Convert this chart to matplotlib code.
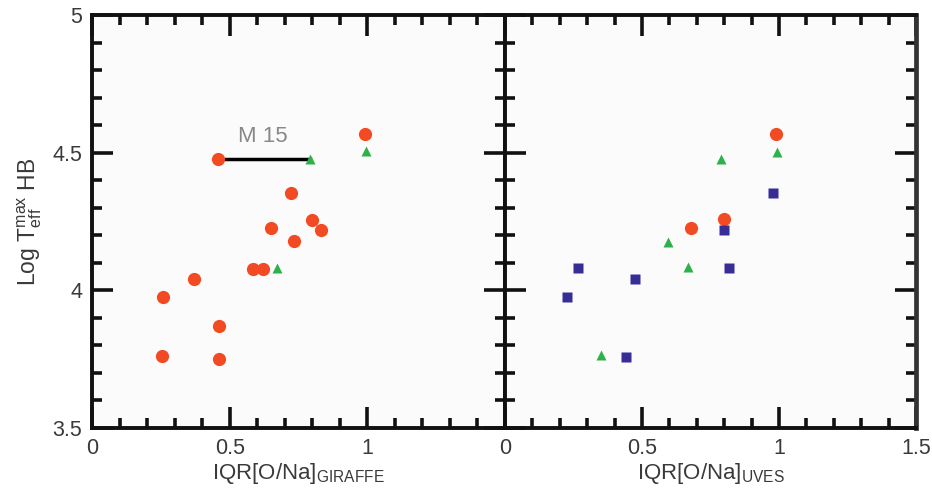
import matplotlib
matplotlib.use("Agg")
import matplotlib.pyplot as plt
from matplotlib.ticker import MultipleLocator, FixedLocator

plt.rcParams['font.family'] = ['Liberation Sans', 'DejaVu Sans']
plt.rcParams['mathtext.default'] = 'regular'

# GIRAFFE panel
gir_red_x = [0.458, 0.99, 0.724, 0.65, 0.732, 0.80, 0.833, 0.586, 0.622, 0.371, 0.258, 0.462, 0.256, 0.462]
gir_red_y = [4.478, 4.568, 4.353, 4.227, 4.179, 4.255, 4.219, 4.076, 4.076, 4.040, 3.975, 3.870, 3.760, 3.750]
gir_grn_x = [0.79, 0.996, 0.673]
gir_grn_y = [4.478, 4.506, 4.080]

# UVES panel
uv_red_x = [0.989, 0.80, 0.68]
uv_red_y = [4.566, 4.258, 4.228]
uv_grn_x = [0.993, 0.789, 0.596, 0.669, 0.349]
uv_grn_y = [4.503, 4.478, 4.177, 4.083, 3.764]
uv_blu_x = [0.978, 0.80, 0.818, 0.265, 0.476, 0.225, 0.44]
uv_blu_y = [4.354, 4.220, 4.080, 4.080, 4.040, 3.977, 3.757]

# M 15 connection (red -> green)
m15_x = [0.458, 0.79]
m15_y = [4.478, 4.478]

red = '#f24a22'
green = '#2db24a'
blue = '#362d96'
txt = '#3a3a3a'

fig = plt.figure(figsize=(9.32, 4.95), dpi=100)
ax1 = fig.add_axes([92/932, 1-428/495, 413/932, 413/495])
ax2 = fig.add_axes([505/932, 1-428/495, 411/932, 413/495])

for ax in (ax1, ax2):
    ax.set_facecolor('#fbfbfb')
    ax.set_xlim(0, 1.5)
    ax.set_ylim(3.5, 5)
    ax.xaxis.set_minor_locator(MultipleLocator(0.1))
    ax.yaxis.set_minor_locator(MultipleLocator(0.1))
    ax.yaxis.set_major_locator(MultipleLocator(0.5))
    ax.tick_params(which='both', direction='in', top=True, right=True,
                   width=2.6, color='#111111', labelsize=15.5, labelcolor=txt, pad=7)
    ax.tick_params(which='major', length=15)
    ax.tick_params(which='minor', length=7.5)
    for s in ax.spines.values():
        s.set_linewidth(2.8)
        s.set_color('#111111')

ax1.xaxis.set_major_locator(FixedLocator([0, 0.5, 1.0]))
ax1.set_xticklabels(['0', '0.5', '1'])
ax1.set_yticks([3.5, 4, 4.5, 5])
ax1.set_yticklabels(['3.5', '4', '4.5', '5'])
ax2.xaxis.set_major_locator(FixedLocator([0, 0.5, 1.0, 1.5]))
ax2.set_xticklabels(['0', '0.5', '1', '1.5'])
ax2.tick_params(labelleft=False)
ax2.spines['right'].set_color('#333333')
ax2.spines['right'].set_linewidth(3.4)

# left panel
ax1.plot(m15_x, m15_y, color='black', lw=2.5, zorder=2)
ax1.plot(gir_red_x, gir_red_y, 'o', color=red, ms=9.5, mec='none', zorder=3)
ax1.plot(gir_grn_x, gir_grn_y, '^', color=green, ms=7, mec='none', zorder=3)
ax1.text(0.62, 4.557, 'M 15', color='#888888', fontsize=16, ha='center', va='center')

# right panel
ax2.plot(uv_red_x, uv_red_y, 'o', color=red, ms=9.5, mec='none', zorder=3)
ax2.plot(uv_grn_x, uv_grn_y, '^', color=green, ms=7, mec='none', zorder=3)
ax2.plot(uv_blu_x, uv_blu_y, 's', color=blue, ms=6.5, mec='none', zorder=3)

ax1.set_xlabel('IQR[O/Na]$_{GIRAFFE}$', fontsize=16, color=txt, labelpad=2)
ax2.set_xlabel('IQR[O/Na]$_{UVES}$', fontsize=16, color=txt, labelpad=2)
ax1.set_ylabel('Log T$^{max}_{eff}$ HB', fontsize=16.5, color=txt, labelpad=6)

fig.savefig('out.png', dpi=100, facecolor='white')
